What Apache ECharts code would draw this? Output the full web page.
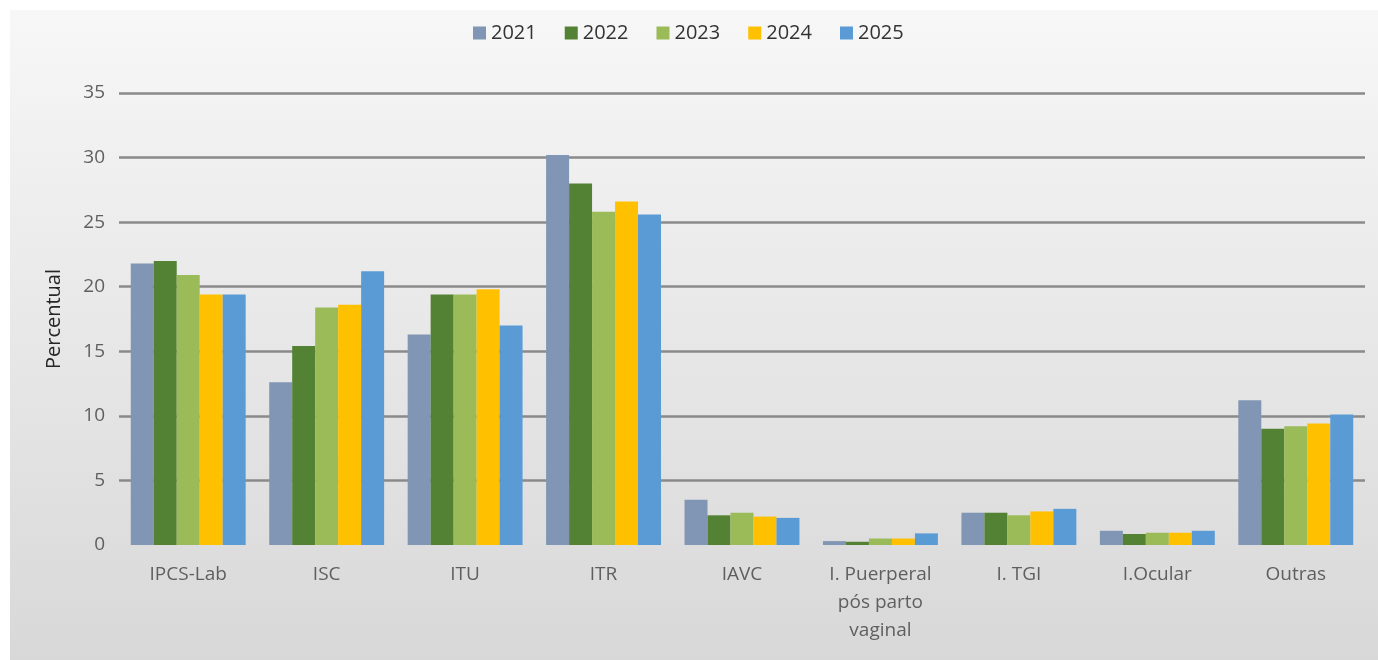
<!DOCTYPE html>
<html><head><meta charset="utf-8">
<script src="https://cdn.jsdelivr.net/npm/echarts@6/dist/echarts.min.js"></script>
<style>html,body{margin:0;padding:0;background:#fff}#c{width:1378px;height:660px}</style>
</head><body><div id="c"></div>
<script>
const categories = ['IPCS-Lab','ISC','ITU','ITR','IAVC','I. Puerperal\npós parto\nvaginal','I. TGI','I.Ocular','Outras'];
const years = ['2021','2022','2023','2024','2025'];
const v2021 = [21.8, 12.6, 16.3, 30.2, 3.5, 0.3, 2.5, 1.1, 11.2];
const v2022 = [22.0, 15.4, 19.4, 28.0, 2.3, 0.25, 2.5, 0.85, 9.0];
const v2023 = [20.9, 18.4, 19.4, 25.8, 2.5, 0.5, 2.3, 0.95, 9.2];
const v2024 = [19.4, 18.6, 19.8, 26.6, 2.2, 0.5, 2.6, 0.95, 9.4];
const v2025 = [19.4, 21.2, 17.0, 25.6, 2.1, 0.9, 2.8, 1.1, 10.1];
const yTicks = [0,5,10,15,20,25,30,35];
const colors = ['#8096B4','#548235','#9BBB59','#FFC000','#5B9BD5'];
const seriesValues = [v2021, v2022, v2023, v2024, v2025];

const chart = echarts.init(document.getElementById('c'));
const font = '"Open Sans", "Noto Sans", sans-serif';
chart.setOption({
  animation: false,
  backgroundColor: '#ffffff',
  textStyle: { fontFamily: font },
  graphic: [{
    type: 'rect', z: -10, silent: true,
    shape: { x: 10, y: 10, width: 1368, height: 650 },
    style: { fill: new echarts.graphic.LinearGradient(0,0,0,1,[{offset:0,color:'#f7f7f7'},{offset:1,color:'#d8d8d8'}]) }
  }],
  color: colors,
  legend: {
    top: 18, left: 468,
    itemWidth: 13, itemHeight: 13, itemGap: 28,
    icon: 'rect',
    textStyle: { fontSize: 20, color: '#333', fontFamily: font, width: 55 },
    data: years
  },
  grid: { left: 119, right: 13, top: 93, bottom: 115, containLabel: false },
  xAxis: {
    type: 'category', data: categories,
    axisLine: { show: false }, axisTick: { show: false },
    axisLabel: { color: '#5f5f5f', fontSize: 19, margin: 16, lineHeight: 28, interval: 0, fontFamily: font }
  },
  yAxis: {
    type: 'value', min: 0, max: 35, interval: 5,
    name: 'Percentual', nameLocation: 'middle', nameGap: 55, nameRotate: 90,
    nameTextStyle: { color: '#262626', fontSize: 20, fontFamily: font },
    axisLine: { show: false }, axisTick: { show: false },
    axisLabel: { color: '#5f5f5f', fontSize: 19, margin: 14, fontFamily: font,
      formatter: v => yTicks.includes(v) ? String(v) : '' },
    splitLine: { show: true, showMinLine: false, lineStyle: { color: '#8a8a8a', width: 2.5 } }
  },
  series: years.map((y, i) => ({
    name: y, type: 'bar', data: seriesValues[i],
    barGap: '0%', barCategoryGap: '17%',
    itemStyle: { color: colors[i] }
  }))
});
</script></body></html>
